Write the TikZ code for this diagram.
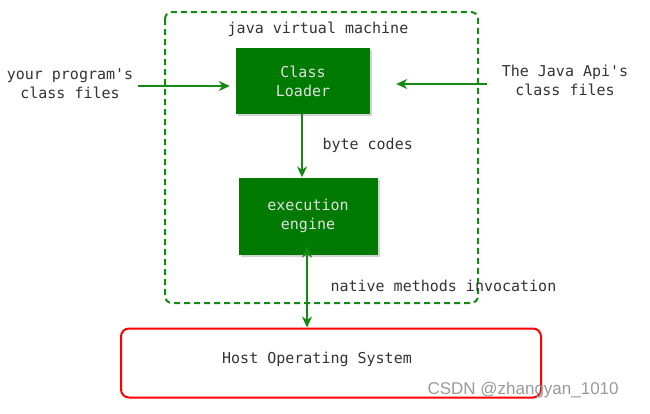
\documentclass[tikz,border=0pt]{standalone}
\usepackage{fontspec}
\setmonofont{DejaVu Sans Mono}
\newfontfamily\wmfont{Liberation Sans}
\usetikzlibrary{arrows.meta}
\usetikzlibrary{positioning}
\usetikzlibrary{shadows}
\definecolor{boxgreen}{HTML}{007A00}
\definecolor{linegreen}{HTML}{138A13}
\definecolor{txtgray}{HTML}{333333}
\tikzstyle{arrow} = [line width=2pt,-{Stealth[length=11pt,width=10pt]},linegreen]
\tikzstyle{darrow} = [line width=2pt,arrows={Stealth[length=11pt,width=10pt]-Stealth[length=11pt,width=10pt]},linegreen]
\tikzstyle{gbox} = [draw=none,fill=boxgreen,text=white!88!black,align=center,
    font=\ttfamily\fontsize{15}{19}\selectfont,drop shadow={opacity=0.35,shadow xshift=2pt,shadow yshift=-2pt}]
\tikzstyle{label} = [text=txtgray,align=center,font=\ttfamily\fontsize{15}{19}\selectfont]

\begin{document}
\begin{tikzpicture}[x=1pt,y=-1pt]

    \useasboundingbox (0,0) rectangle (650,413); % keeps the margins

    % java virtual machine
    \draw [line width=2pt,dash pattern=on 6pt off 4pt,linegreen,rounded corners=7pt] (165,12) rectangle (478,303);
    \node[label] (jvm) at (318,29) {java virtual machine};

    \node[gbox,minimum width=134pt,minimum height=66pt] (loader) at (303,81) {Class\\Loader};
    \node[gbox,minimum width=139pt,minimum height=77pt] (engine) at (308,216) {execution\\engine};

    % host operating system
    \node[draw=red,line width=2pt,rounded corners=8pt,minimum width=420pt,minimum height=69pt] (host) at (331,363) {};
    \node[label] (hostname) at (317,359) {Host Operating System};

    % class files coming in
    \node[label] (yours) at (70,84) {your program's\\class files};
    \node[label] (api) at (565,80) {The Java Api's\\class files};
    \coordinate (yoursEnd) at (138,86);
    \coordinate (apiEnd)   at (487,84);
    \draw [arrow] (yoursEnd) -- ([xshift=-6pt]loader.west |- yoursEnd);
    \draw [arrow] (apiEnd) -- ([xshift=26pt]loader.east |- apiEnd);

    \draw [arrow] (loader.south -| 302,0) -- (engine.north -| 302,0);
    \node[label,anchor=west] (bytecodes) at (319,145) {byte codes};

    \draw [darrow] ([yshift=8pt]engine.south -| 307,0) -- (host.north -| 307,0);
    \node[label,anchor=west] (native) at (327,286) {native methods invocation};

    % watermark
    \node[anchor=west,text=gray!80,font=\wmfont\fontsize{17}{20}\selectfont] (mark) at (424,390) {CSDN @zhangyan\_1010};

\end{tikzpicture}
\end{document}
